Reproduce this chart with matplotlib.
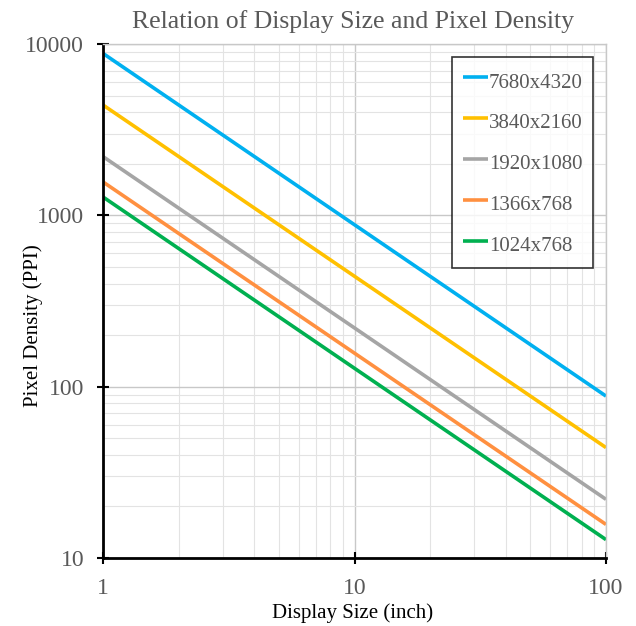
import matplotlib
matplotlib.use("Agg")
import matplotlib.pyplot as plt
from matplotlib.ticker import LogLocator, NullFormatter, FixedLocator

# Data (PPI at display sizes 1 and 100 inch)
sizes = [1, 100]
labels = ["7680x4320", "3840x2160", "1920x1080", "1366x768", "1024x768"]
ppi_7680 = [8812, 88.1]
ppi_3840 = [4406, 44.1]
ppi_1920 = [2203, 22.0]
ppi_1366 = [1567, 15.7]
ppi_1024 = [1280, 12.8]
series = [ppi_7680, ppi_3840, ppi_1920, ppi_1366, ppi_1024]
colors = ["#00b0f0", "#ffc000", "#a5a5a5", "#ff9040", "#00b050"]

plt.rcParams['font.family'] = ['Liberation Serif', 'DejaVu Serif']
txt = "#595959"

fig = plt.figure(figsize=(6.36, 6.26), dpi=100)
ax = fig.add_axes([103/636, 1-558/626, (606-103)/636, (558-44)/626])

for s, lab, c in zip(series, labels, colors):
    ax.plot(sizes, s, color=c, lw=2.6, label=lab, solid_capstyle='butt')

ax.set_xscale('log')
ax.set_yscale('log')
ax.set_xlim(1, 100)
ax.set_ylim(10, 10000)

ax.xaxis.set_major_locator(FixedLocator([1, 10, 100]))
ax.yaxis.set_major_locator(FixedLocator([10, 100, 1000, 10000]))
ax.set_xticklabels(["1", "10", "100"])
ax.set_yticklabels(["10", "100", "1000", "10000"])
ax.xaxis.set_minor_locator(LogLocator(base=10, subs=range(2, 10)))
ax.yaxis.set_minor_locator(LogLocator(base=10, subs=range(2, 10)))
ax.xaxis.set_minor_formatter(NullFormatter())
ax.yaxis.set_minor_formatter(NullFormatter())

ax.grid(which='major', color='#c8c8c8', lw=1.0)
ax.grid(which='minor', color='#e3e3e3', lw=0.8)
ax.set_axisbelow(True)

ax.tick_params(which='major', direction='inout', length=9, width=1.5, color='black',
               labelsize=17, labelcolor=txt)
ax.tick_params(which='minor', length=0)
ax.tick_params(axis='x', pad=10)
ax.tick_params(axis='y', pad=9)

for sp in ['left', 'bottom']:
    ax.spines[sp].set_color('black')
    ax.spines[sp].set_linewidth(2)
for sp in ['top', 'right']:
    ax.spines[sp].set_color('#c8c8c8')
    ax.spines[sp].set_linewidth(1)

ax.set_xlabel("Display Size (inch)", fontsize=15, color='black')
ax.xaxis.set_label_coords(0.497, (558-613)/514, transform=ax.transAxes)
ax.xaxis.label.set_va('center')
ax.set_ylabel("Pixel Density (PPI)", fontsize=15, color='black')
ax.yaxis.set_label_coords((33-103)/503, 1-(326-44)/514, transform=ax.transAxes)
ax.yaxis.label.set_va('center')
fig.text(353/636, 1-22/626, "Relation of Display Size and Pixel Density", fontsize=18.5,
         color=txt, ha='center', va='center')

leg = ax.legend(loc='upper right', bbox_to_anchor=(593/636, 1-57/626), bbox_transform=fig.transFigure,
                fontsize=15, frameon=True, fancybox=False, handlelength=1.2, handleheight=1.59,
                handletextpad=0.05, labelspacing=0.68, borderpad=0.5, borderaxespad=0)
leg.get_frame().set_edgecolor('black')
leg.get_frame().set_linewidth(1.2)
for t in leg.get_texts():
    t.set_color(txt)

fig.savefig("out.png", dpi=100)
